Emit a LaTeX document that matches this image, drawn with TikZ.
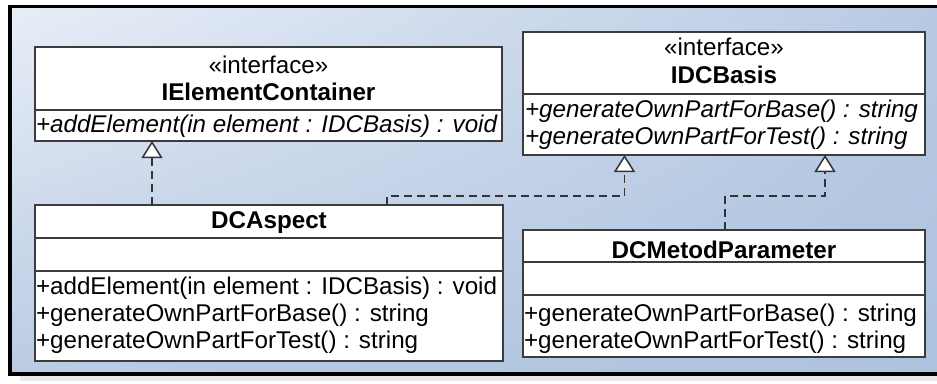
\documentclass[tikz,border=0pt]{standalone}
\usepackage{fontspec}
\setmainfont{Liberation Sans}
\usetikzlibrary{arrows.meta,shadings}
\definecolor{bgUL}{HTML}{E8EEF7}
\definecolor{bgUR}{HTML}{B8CAE3}
\definecolor{bgLL}{HTML}{BACBE3}
\definecolor{bgLR}{HTML}{ADC2DE}
\definecolor{boxline}{HTML}{3C3C3C}
\definecolor{conline}{HTML}{333333}
\definecolor{shadowc}{HTML}{E9E9E9}
\tikzset{
  comp/.style={draw=boxline, fill=white, line width=1.3pt, inner sep=0pt, outer sep=0pt, anchor=north west},
  txt/.style={inner sep=0pt, outer sep=0pt, font=\fontsize{24.2}{28}\selectfont},
  realize/.style={draw=conline, line width=1.5pt, dash pattern=on 8pt off 5pt,
    -{Triangle[open, length=17pt, width=21pt, fill=white]}}
}
\begin{document}
\begin{tikzpicture}[x=1pt,y=-1pt]
\useasboundingbox (0,0) rectangle (937,383);
% background frame
\fill[shadowc] (20,376) rectangle (937,381);
\shade[upper left=bgUL, upper right=bgUR, lower left=bgLL, lower right=bgLR] (10,6.5) rectangle (937,374);
\draw[black, line width=3.5pt, line join=miter] (937,6.5) -- (10,6.5) -- (10,374) -- (937,374);

% IElementContainer
\node[comp, minimum width=467pt, minimum height=63pt] (iecH) at (35,47) {};
\node[comp, minimum width=467pt, minimum height=31pt] (iecM) at (35,110) {};
\node[txt, anchor=base] (iecS) at (268.5,73) {«interface»};
\node[txt, anchor=base, font=\fontsize{24.2}{28}\selectfont\bfseries] (iecN) at (268.5,100) {IElementContainer};
\node[txt, anchor=base west, font=\fontsize{24.2}{28}\selectfont\itshape] (iecO) at (36,132) {+addElement(in element : IDCBasis) : void};

% IDCBasis
\node[comp, minimum width=402pt, minimum height=62pt] (ibH) at (523,32) {};
\node[comp, minimum width=402pt, minimum height=61pt] (ibM) at (523,94) {};
\node[txt, anchor=base] (ibS) at (724,55) {«interface»};
\node[txt, anchor=base, font=\fontsize{24.2}{28}\selectfont\bfseries] (ibN) at (724,83) {IDCBasis};
\node[txt, anchor=base west, font=\fontsize{24.2}{28}\selectfont\itshape] (ibO1) at (525,117) {+generateOwnPartForBase() : string};
\node[txt, anchor=base west, font=\fontsize{24.2}{28}\selectfont\itshape] (ibO2) at (525,144) {+generateOwnPartForTest() : string};

% DCAspect
\node[comp, minimum width=468pt, minimum height=33pt] (daH) at (35,205) {};
\node[comp, minimum width=468pt, minimum height=33pt] (daA) at (35,238) {};
\node[comp, minimum width=468pt, minimum height=90pt] (daM) at (35,271) {};
\node[txt, anchor=base, font=\fontsize{24.2}{28}\selectfont\bfseries] (daN) at (269,228) {DCAspect};
\node[txt, anchor=base west] (daO1) at (36,294) {+addElement(in element : IDCBasis) : void};
\node[txt, anchor=base west] (daO2) at (36,321) {+generateOwnPartForBase() : string};
\node[txt, anchor=base west] (daO3) at (36,348) {+generateOwnPartForTest() : string};

% DCMetodParameter
\node[comp, minimum width=402pt, minimum height=32pt] (dmH) at (523,230) {};
\node[comp, minimum width=402pt, minimum height=33pt] (dmA) at (523,262) {};
\node[comp, minimum width=402pt, minimum height=62pt] (dmM) at (523,295) {};
\node[txt, anchor=base, font=\fontsize{24.2}{28}\selectfont\bfseries] (dmN) at (724,258) {DCMetodParameter};
\node[txt, anchor=base west] (dmO1) at (524,321) {+generateOwnPartForBase() : string};
\node[txt, anchor=base west] (dmO2) at (524,348) {+generateOwnPartForTest() : string};

% connector bends
\coordinate (j0) at (152,0);
\coordinate (j1) at (387,196);
\coordinate (j2) at (624.5,196);
\coordinate (j3) at (725,196);
\coordinate (j4) at (825,196);

\draw[realize] (daH.north -| j0) -- (iecM.south -| j0);
\draw[realize] (daH.north -| j1) -- (j1) -- (j2) -- (ibM.south -| j2);
\draw[realize] (dmH.north -| j3) -- (j3) -- (j4) -- (ibM.south -| j4);
\end{tikzpicture}
\end{document}
